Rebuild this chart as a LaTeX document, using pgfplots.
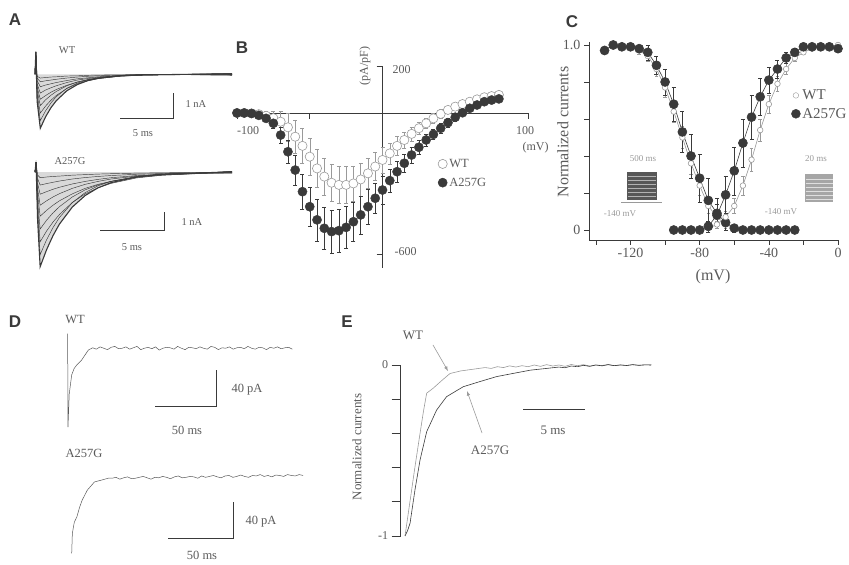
\documentclass[border=0pt]{standalone}
\usepackage{fontspec}
\setmainfont{Liberation Serif}
\setsansfont{Liberation Sans}
\usepackage{pgfplots}
\usepackage{pgfplotstable}
\pgfplotsset{compat=1.18}

\definecolor{ink}{HTML}{3A3A3A}
\definecolor{txt}{HTML}{5A5A5A}
\definecolor{light}{HTML}{9A9A9A}
\newcommand{\fs}[1]{\fontsize{#1}{#1}\selectfont}

\pgfplotsset{
  base/.style={scale only axis, clip=false, anchor=south west},
  trace/.style={no markers, line width=0.45pt, ink},
  tick label style={text=txt},
}

% panel A: current families (nA vs ms), columns = test pulses
\pgfplotstableread{
t a b c d e f g h i
0 0 0 0 0 0 0 0 0 0
0.08 0.9 0.9 0.9 0.9 0.9 0.9 0.9 0.9 0.9
0.2 -1.08 -0.93 -0.78 -0.63 -0.5 -0.38 -0.25 -0.15 -0.08
0.5 -2.16 -1.85 -1.55 -1.25 -1.0 -0.75 -0.5 -0.3 -0.15
1 -1.70 -1.46 -1.27 -1.02 -0.85 -0.63 -0.43 -0.26 -0.13
1.5 -1.34 -1.15 -1.04 -0.84 -0.72 -0.54 -0.38 -0.23 -0.11
2 -1.06 -0.90 -0.85 -0.69 -0.61 -0.46 -0.33 -0.20 -0.10
3 -0.66 -0.56 -0.57 -0.46 -0.44 -0.33 -0.25 -0.15 -0.07
4 -0.41 -0.35 -0.38 -0.31 -0.31 -0.23 -0.18 -0.11 -0.06
5 -0.25 -0.22 -0.26 -0.21 -0.22 -0.17 -0.14 -0.08 -0.04
6 -0.16 -0.14 -0.17 -0.14 -0.16 -0.12 -0.10 -0.06 -0.03
8 -0.06 -0.05 -0.08 -0.06 -0.08 -0.06 -0.06 -0.04 -0.02
10 -0.02 -0.02 -0.03 -0.03 -0.04 -0.03 -0.03 -0.02 -0.01
13 -0.01 -0.01 -0.01 -0.01 -0.02 -0.01 -0.01 -0.01 0
18.6 0.02 -0.02 0.04 -0.04 0 0.03 -0.03 0.01 -0.01
}\wtA

\pgfplotstableread{
t a b c d e f g h i
0 0 0 0 0 0 0 0 0 0
0.08 0.55 0.55 0.55 0.55 0.55 0.55 0.55 0.55 0.55
0.2 -2.58 -2.25 -1.9 -1.55 -1.2 -0.9 -0.6 -0.35 -0.15
0.4 -5.16 -4.5 -3.8 -3.1 -2.4 -1.8 -1.2 -0.7 -0.3
0.9 -4.23 -3.69 -3.21 -2.62 -2.08 -1.56 -1.06 -0.62 -0.26
1.4 -3.46 -3.02 -2.72 -2.22 -1.80 -1.35 -0.93 -0.55 -0.23
1.9 -2.83 -2.47 -2.31 -1.88 -1.56 -1.17 -0.82 -0.48 -0.21
2.9 -1.90 -1.66 -1.65 -1.35 -1.18 -0.88 -0.64 -0.37 -0.16
3.9 -1.27 -1.11 -1.18 -0.96 -0.88 -0.66 -0.50 -0.29 -0.13
4.9 -0.85 -0.74 -0.85 -0.69 -0.66 -0.50 -0.39 -0.23 -0.10
5.9 -0.57 -0.50 -0.61 -0.50 -0.50 -0.37 -0.30 -0.18 -0.08
7.9 -0.26 -0.23 -0.31 -0.25 -0.28 -0.21 -0.18 -0.11 -0.05
9.9 -0.11 -0.10 -0.16 -0.13 -0.16 -0.12 -0.11 -0.07 -0.03
12.9 -0.04 -0.03 -0.06 -0.05 -0.07 -0.05 -0.05 -0.03 -0.01
15.3 0.03 -0.03 0.05 -0.05 0 0.04 -0.04 0.02 -0.02
}\mutA

% panel B: current density (pA/pF) vs voltage
\pgfplotstableread{
v wt wte mu mue
-100 0 3 0 3
-95 0 3 0 3
-90 -2 5 -2 5
-85 -5 10 -10 8
-80 -12 18 -23 12
-75 -22 30 -44 20
-70 -37 45 -94 35
-65 -61 60 -165 50
-60 -101 70 -243 65
-55 -140 75 -335 75
-50 -186 80 -399 85
-45 -236 80 -455 90
-40 -271 80 -491 90
-35 -297 80 -505 90
-30 -306 80 -501 90
-25 -306 80 -487 90
-20 -300 75 -463 85
-15 -283 70 -434 80
-10 -257 65 -399 75
-5 -228 60 -363 65
0 -200 55 -328 60
5 -172 45 -288 50
10 -140 40 -250 45
15 -115 35 -214 40
20 -89 30 -179 35
25 -65 25 -146 30
30 -44 22 -115 25
35 -23 20 -91 22
40 -4 18 -65 20
45 13 15 -41 18
50 27 12 -18 15
55 38 12 1 12
60 48 10 20 12
65 58 10 34 10
70 67 10 48 10
75 72 10 55 10
80 77 10 60 10
}\ivdata

% panel C: steady-state inactivation and activation
\pgfplotstableread{
v y e
-135 0.98 0.01
-130 0.99 0.01
-125 0.99 0.01
-120 0.99 0.01
-115 0.97 0.02
-110 0.94 0.03
-105 0.87 0.04
-100 0.77 0.05
-95 0.64 0.06
-90 0.50 0.06
-85 0.36 0.06
-80 0.24 0.05
-75 0.13 0.04
-70 0.07 0.03
-65 0.03 0.02
-60 0.01 0.01
-55 0 0
-50 0 0
-45 0 0
-40 0 0
-35 0 0
-30 0 0
-25 0 0
}\inactWT

\pgfplotstableread{
v y e
-135 0.97 0.01
-130 1.00 0.01
-125 0.99 0.01
-120 0.99 0.01
-115 0.98 0.02
-110 0.96 0.04
-105 0.89 0.05
-100 0.80 0.07
-95 0.68 0.09
-90 0.53 0.11
-85 0.40 0.12
-80 0.28 0.13
-75 0.16 0.12
-70 0.09 0.08
-65 0.04 0.04
-60 0.01 0.02
-55 0 0
-50 0 0
-45 0 0
-40 0 0
-35 0 0
-30 0 0
-25 0 0
}\inactMut

\pgfplotstableread{
v y e
-95 0 0
-90 0 0
-85 0 0
-80 0 0
-75 0.01 0.01
-70 0.03 0.02
-65 0.07 0.03
-60 0.13 0.04
-55 0.24 0.05
-50 0.38 0.06
-45 0.54 0.06
-40 0.68 0.05
-35 0.79 0.04
-30 0.87 0.03
-25 0.93 0.02
-20 0.96 0.01
-15 0.98 0.01
-10 0.99 0.01
-5 0.99 0.01
0 1.00 0.01
}\actWT

\pgfplotstableread{
v y e
-95 0 0
-90 0 0
-85 0 0
-80 0 0
-75 0.02 0.03
-70 0.08 0.06
-65 0.19 0.10
-60 0.32 0.13
-55 0.47 0.13
-50 0.61 0.12
-45 0.72 0.10
-40 0.81 0.07
-35 0.87 0.05
-30 0.93 0.03
-25 0.96 0.02
-20 0.99 0.01
-15 0.99 0.01
-10 0.99 0.01
-5 0.99 0.01
0 0.98 0.01
}\actMut

\begin{document}
\begin{tikzpicture}[x=1pt,y=1pt]
\path[use as bounding box] (0,0) rectangle (849,565);

% ---------- A ----------
\begin{axis}[base, hide axis, at={(35pt,433.2pt)}, width=197pt, height=82.5pt,
  xmin=0, xmax=18.6, ymin=-2.3, ymax=1.0]
\addplot[fill=gray!30, draw=none] table[x=t,y=a]{\wtA} \closedcycle;
\pgfplotsinvokeforeach{b,c,d,e,f,g,h,i}{\addplot[trace] table[x=t,y=#1]{\wtA};}
\addplot[trace, line width=1.1pt] table[x=t,y=a]{\wtA};
\end{axis}
\begin{axis}[base, hide axis, at={(35pt,293.9pt)}, width=197pt, height=113.5pt,
  xmin=0, xmax=15.3, ymin=-5.4, ymax=0.8]
\addplot[fill=gray!30, draw=none] table[x=t,y=a]{\mutA} \closedcycle;
\pgfplotsinvokeforeach{b,c,d,e,f,g,h,i}{\addplot[trace] table[x=t,y=#1]{\mutA};}
\addplot[trace, line width=1.1pt] table[x=t,y=a]{\mutA};
\end{axis}
\begin{scope}[txt, font=\fs{10.5}]
\node at (67,515) {WT};
\draw[ink, line width=0.6pt] (120,446.7) -- (173.3,446.7) -- (173.3,471.7);
\node[anchor=west] at (182,461) {1 nA};
\node at (143,432) {5 ms};
\node at (70,404) {A257G};
\draw[ink, line width=0.6pt] (100,335) -- (164.3,335) -- (164.3,353.3);
\node[anchor=west] at (178,343) {1 nA};
\node at (132,318) {5 ms};
\end{scope}

% ---------- B ----------
\begin{axis}[base, at={(237pt,297pt)}, width=291pt, height=202pt,
  xmin=-100, xmax=100, ymin=-660, ymax=200,
  axis lines=middle, axis line style={-,ink,line width=0.6pt},
  xtick={-100,-50,100}, ytick={200,-600}, xticklabels={}, yticklabels={},
  tick align=outside, major tick length=6pt, tick style={ink,line width=0.6pt},
  legend style={at={(0.68,0.56)}, anchor=north west, draw=none, fill=none,
    font=\fs{12.5}, text=txt, row sep=5pt},
  legend cell align=left]
\addplot[only marks, mark=*, mark size=4.6pt, mark options={fill=white, draw=light, line width=0.6pt},
  error bars/.cd, y dir=both, y explicit,
  error bar style={light, line width=0.5pt}, error mark options={rotate=90, mark size=2pt, light}]
  table[x=v, y=wt, y error=wte]{\ivdata};
\addlegendentry{WT}
\addplot[only marks, mark=*, mark size=4.6pt, mark options={fill=ink, draw=ink},
  error bars/.cd, y dir=both, y explicit,
  error bar style={ink, line width=0.5pt}, error mark options={rotate=90, mark size=2pt, ink}]
  table[x=v, y=mu, y error=mue]{\ivdata};
\addlegendentry{A257G}
\end{axis}
\begin{scope}[txt, font=\fs{12}]
\node[rotate=90] at (365,499) {(pA/pF)};
\node[anchor=west] at (389,495) {200};
\node[anchor=west] at (391,313) {-600};
\node at (248,434) {-100};
\node at (525,434) {100};
\node[anchor=west] at (519,417) {(mV)};
\end{scope}

% ---------- C ----------
\begin{axis}[base, at={(589pt,325pt)}, width=249pt, height=198pt,
  xmin=-144, xmax=0, ymin=-0.054, ymax=1.016,
  axis x line=bottom, axis y line=left, axis line style={-,ink,line width=0.6pt},
  xtick={-140,-120,-100,-80,-60,-40,-20,0}, xticklabels={,-120,,-80,,-40,,0},
  ytick={0,0.2,0.4,0.6,0.8,1}, yticklabels={0,,,,,1.0},
  tick align=outside, major tick length=5pt, tick style={ink,line width=0.6pt},
  tick label style={font=\fs{14}},
  legend style={at={(0.80,0.78)}, anchor=north west, draw=none, fill=none,
    font=\fs{15}, text=txt, row sep=3pt},
  legend cell align=left]
\addlegendimage{only marks, mark=*, mark size=2.8pt, mark options={fill=white, draw=light}}
\addlegendentry{WT}
\addlegendimage{only marks, mark=*, mark size=4.5pt, mark options={fill=ink, draw=ink}}
\addlegendentry{A257G}
\addplot[light, line width=0.6pt, mark=*, mark size=2.8pt, mark options={fill=white, draw=light},
  error bars/.cd, y dir=both, y explicit,
  error bar style={light, line width=0.5pt}, error mark options={rotate=90, mark size=1.8pt, light}]
  table[x=v, y=y, y error=e]{\inactWT};
\addplot[ink, line width=0.6pt, mark=*, mark size=4.5pt, mark options={fill=ink, draw=ink},
  error bars/.cd, y dir=both, y explicit,
  error bar style={ink, line width=0.5pt}, error mark options={rotate=90, mark size=2pt, ink}]
  table[x=v, y=y, y error=e]{\inactMut};
\addplot[light, line width=0.6pt, mark=*, mark size=2.8pt, mark options={fill=white, draw=light},
  error bars/.cd, y dir=both, y explicit,
  error bar style={light, line width=0.5pt}, error mark options={rotate=90, mark size=1.8pt, light}]
  table[x=v, y=y, y error=e]{\actWT};
\addplot[ink, line width=0.6pt, mark=*, mark size=4.5pt, mark options={fill=ink, draw=ink},
  error bars/.cd, y dir=both, y explicit,
  error bar style={ink, line width=0.5pt}, error mark options={rotate=90, mark size=2pt, ink}]
  table[x=v, y=y, y error=e]{\actMut};
\end{axis}
\begin{scope}[txt, font=\fs{16}]
\node[rotate=90] at (563,433) {Normalized currents};
\node at (713,288) {(mV)};
\end{scope}
% voltage protocol insets
\fill[ink!85] (626.7,365) rectangle (656.7,393);
\foreach \yy in {369,373,377,381,385,389} \draw[gray!60, line width=0.5pt] (627.5,\yy) -- (656,\yy);
\draw[light, line width=0.5pt] (621,363) -- (662,363);
\fill[gray!70] (805,363) rectangle (833,391);
\foreach \yy in {366,370,374,378,382,386} \draw[gray!25, line width=0.8pt] (805.5,\yy) -- (832.5,\yy);
\begin{scope}[light, font=\fs{9}]
\node at (643,406) {500 ms};
\node at (620,351) {-140 mV};
\node at (816,406) {20 ms};
\node at (781,353) {-140 mV};
\end{scope}

% ---------- D ----------
\begin{axis}[base, hide axis, at={(68pt,129.6pt)}, width=228pt, height=105.5pt,
  xmin=0, xmax=185, ymin=-95, ymax=20]
\addplot[no markers, line width=0.5pt, gray!70!black] coordinates {
(-0.3,16) (0,-86) (1,-50) (3,-29) (5,-22) (7,-18.5) (11,-13) (14,-7) (16.5,-2) (20,0.5)
(23,-1) (26,1.5) (29,0) (32,-1.5) (35,1) (38,2) (41,-0.5) (44,0) (47,1.5) (50,-1)
(53,0.5) (56,2) (59,-1.5) (62,0) (65,1) (68,-0.5) (71,1.5) (74,-2) (77,0) (80,1)
(83,0.5) (86,-1) (89,2) (92,0) (95,-1.5) (98,1) (101,0.5) (104,-0.5) (107,1.5) (110,0)
(113,-1) (116,2) (119,1) (122,-1.5) (125,0.5) (128,0) (131,1.5) (134,-1) (137,0.5) (140,1)
(143,-0.5) (146,2) (149,0) (152,-1) (155,1) (158,0.5) (161,-1.5) (164,1) (167,0) (170,1.5)
(173,-0.5) (176,0.5) (179,1) (182,-1)
};
\end{axis}
\begin{axis}[base, hide axis, at={(71.7pt,4.2pt)}, width=234pt, height=100.9pt,
  xmin=0, xmax=180, ymin=-90, ymax=20]
\addplot[no markers, line width=0.5pt, gray!70!black] coordinates {
(0,-82) (0.5,-60) (2,-48) (4,-42) (6,-32) (8,-24) (12,-13) (17.5,-4) (23,-2) (28,0)
(31,0) (34,1) (37,-1) (40,0.5) (43,1.5) (46,-0.5) (49,0) (52,1) (55,2) (58,0.5)
(61,-1) (64,1) (67,0.5) (70,2) (73,1) (76,-0.5) (79,1.5) (82,2.5) (85,0.5) (88,1)
(91,2) (94,1.5) (97,0) (100,2.5) (103,1) (106,2) (109,3) (112,1.5) (115,0.5) (118,2.5)
(121,3) (124,1) (127,2) (130,3.5) (133,2) (136,1) (139,3) (142,2.5) (145,4) (148,2)
(151,3) (154,1.5) (157,3.5) (160,3) (163,2) (166,4) (169,3) (172,2.5) (175,4) (178,3)
};
\end{axis}
\begin{scope}[txt, font=\fs{12.5}]
\node at (75,245) {WT};
\draw[ink, line width=0.6pt] (155,158.3) -- (216.7,158.3) -- (216.7,195);
\node[anchor=west] at (228,175) {40 pA};
\node at (187,135) {50 ms};
\node at (84,112) {A257G};
\draw[ink, line width=0.6pt] (168.3,26.7) -- (233.3,26.7) -- (233.3,63.3);
\node[anchor=west] at (242,43.3) {40 pA};
\node at (202,10) {50 ms};
\end{scope}

% ---------- E ----------
\begin{axis}[base, at={(400.7pt,29pt)}, width=253pt, height=171pt,
  xmin=-0.35, xmax=20.2, ymin=-1, ymax=0,
  axis x line=none, axis y line=left, axis line style={-,ink,line width=0.6pt},
  ytick={-1,-0.8,-0.6,-0.4,-0.2,0}, yticklabels={-1,,,,,0},
  tick align=outside, major tick length=9pt, tick style={ink,line width=0.6pt},
  tick label style={font=\fs{12}}]
\addplot[no markers, line width=0.6pt, light] coordinates {
(0,-1) (0.2,-0.9) (0.41,-0.795) (0.81,-0.595) (1.22,-0.4) (1.5,-0.27) (1.76,-0.165)
(2.3,-0.135) (3,-0.09) (3.65,-0.05) (4.5,-0.035) (6,-0.02) (6.5,-0.015) (7,-0.02)
(7.5,-0.01) (8,-0.015) (8.5,-0.005) (9,-0.012) (9.5,-0.004) (10,-0.01) (10.5,0)
(11,-0.008) (11.5,0.002) (12,-0.006) (12.5,0) (13,-0.008) (13.5,0.003) (14,-0.004)
(14.5,0.002) (15,-0.006) (15.5,0) (16,-0.003) (16.5,0.003) (17,-0.004) (17.5,0.001)
(18,-0.003) (18.5,0.002) (19,-0.002) (19.5,0.001) (20,0)
};
\addplot[no markers, line width=0.6pt, ink] coordinates {
(0,-1) (0.2,-0.97) (0.41,-0.925) (0.81,-0.73) (1.22,-0.556) (1.76,-0.39) (2.57,-0.263)
(3.38,-0.185) (4.73,-0.127) (6.08,-0.097) (7.43,-0.068) (8.8,-0.049) (10.2,-0.03)
(11.5,-0.02) (12.5,-0.012) (13,-0.016) (13.5,-0.006) (14,-0.01) (14.5,-0.002) (15,-0.008)
(15.5,0) (16,-0.005) (16.5,0.002) (17,-0.004) (17.5,0) (18,-0.003) (18.5,0.002)
(19,-0.002) (19.5,0.001) (20,0)
};
\end{axis}
\begin{scope}[txt, font=\fs{13}]
\node[rotate=90] at (357,118) {Normalized currents};
\node at (413,230) {WT};
\node at (490,115) {A257G};
\node at (553,135) {5 ms};
\end{scope}
\draw[ink, line width=0.6pt] (523.3,156) -- (585,156);
\draw[-latex, light, line width=0.6pt] (433,220) -- (448,194);
\draw[-latex, light, line width=0.6pt] (482,132) -- (467,174);

% panel letters
\begin{scope}[ink, font=\sffamily\bfseries\fs{17}]
\node at (15,545) {A};
\node at (242,517) {B};
\node at (572,543) {C};
\node at (15,243) {D};
\node at (347,243) {E};
\end{scope}
\end{tikzpicture}
\end{document}
